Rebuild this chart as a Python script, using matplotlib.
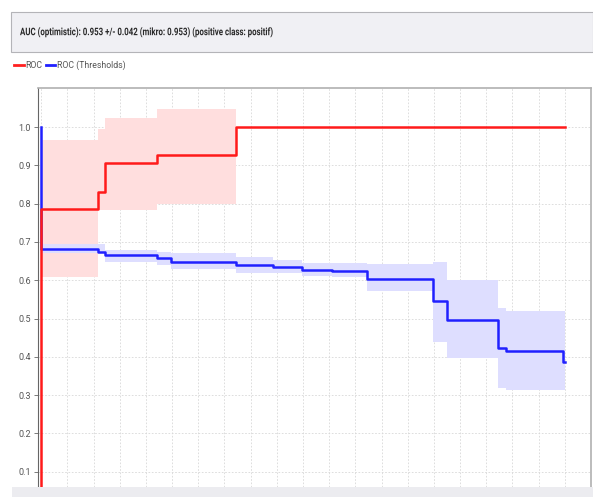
import matplotlib
matplotlib.use("Agg")
import matplotlib.pyplot as plt
from matplotlib.lines import Line2D
from matplotlib.patches import Rectangle
from matplotlib.patheffects import AbstractPathEffect
from matplotlib.transforms import Affine2D

# ROC (mean) curve, step-post
red_fpr = [0.0, 0.0, 0.109, 0.122, 0.221, 0.372, 1.0]
red_tpr = [0.0, 0.787, 0.830, 0.905, 0.926, 1.0, 1.0]

# ROC +/- std band
red_band_x = [0.0, 0.109, 0.122, 0.221, 0.372, 1.0]
red_upper = [0.966, 0.995, 1.023, 1.047, 1.0, 1.0]
red_lower = [0.608, 0.783, 0.783, 0.800, 1.0, 1.0]

# ROC (Thresholds) curve
blue_fpr = [0.0, 0.0, 0.109, 0.122, 0.221, 0.248, 0.372, 0.443, 0.498,
            0.555, 0.622, 0.748, 0.775, 0.872, 0.887, 0.996, 1.0]
blue_thr = [1.0, 0.681, 0.674, 0.666, 0.657, 0.648, 0.641, 0.634, 0.627,
            0.624, 0.603, 0.546, 0.496, 0.423, 0.415, 0.386, 0.386]

blue_band_x = [0.0, 0.122, 0.221, 0.248, 0.372, 0.443, 0.498, 0.555, 0.622,
               0.748, 0.775, 0.872, 0.887, 1.0]
blue_upper = [0.695, 0.679, 0.674, 0.671, 0.661, 0.653, 0.645, 0.645, 0.642,
              0.648, 0.600, 0.527, 0.520, 0.520]
blue_lower = [0.671, 0.648, 0.640, 0.629, 0.619, 0.619, 0.611, 0.608, 0.572,
              0.439, 0.397, 0.319, 0.313, 0.313]

y_ticks = [0.1, 0.2, 0.3, 0.4, 0.5, 0.6, 0.7, 0.8, 0.9, 1.0]
title_text = "AUC (optimistic): 0.953 +/- 0.042 (mikro: 0.953) (positive class: positif)"


class HSqueeze(AbstractPathEffect):
    """Squeeze glyphs horizontally (the original uses a narrow UI font)."""

    def __init__(self, sx):
        super().__init__()
        self.sx = sx

    def draw_path(self, renderer, gc, tpath, affine, rgbFace=None):
        renderer.draw_path(gc, tpath, Affine2D().scale(self.sx, 1) + affine, rgbFace)


plt.rcParams["font.family"] = ["Roboto", "DejaVu Sans"]

W, H = 593, 497
fig = plt.figure(figsize=(W / 100, H / 100), dpi=100)
renderer = fig.canvas.get_renderer()

# header bar
fig.patches.append(Rectangle((11 / W, 1 - 52 / H), 1 - 11 / W, 40 / H,
                             transform=fig.transFigure, facecolor="#f0f0f4",
                             edgecolor="#b4b4b8", lw=0.8))
title = fig.text(20 / W, 1 - 32 / H, title_text, fontsize=7.5, color="#2a2a2a",
                 va="center", ha="left", fontweight="bold")
tw = title.get_window_extent(renderer).width
title.set_path_effects([HSqueeze(252 / tw)])

# bottom strip
fig.patches.append(Rectangle((12 / W, 0), 1, 10 / H, transform=fig.transFigure,
                             facecolor="#ececf0", edgecolor="none"))

# legend row
handles = [Line2D([], [], color="#ff2020", lw=2),
           Line2D([], [], color="#2020ff", lw=2)]
fig.legend(handles, ["ROC", "ROC (Thresholds)"], loc="center left",
           bbox_to_anchor=(6 / W, 1 - 65 / H), ncol=2, frameon=False,
           fontsize=6.3, handlelength=1.1, handletextpad=0.2,
           columnspacing=0.4, labelcolor="#555555")

ax = fig.add_axes([38 / W, 10 / H, (591 - 38) / W, (487 - 88) / H])
ax.set_xlim(-0.006, 1.05)
ax.set_ylim(0.06, 1.102)

ax.fill_between(red_band_x, red_lower, red_upper, step="post",
                facecolor="#ffdede", edgecolor="none", zorder=1)
ax.fill_between(blue_band_x, blue_lower, blue_upper, step="post",
                facecolor="#dedeff", edgecolor="none", zorder=1)
ax.step(blue_fpr, blue_thr, where="post", color="#2020ff", lw=1.8, zorder=3)
ax.step(red_fpr, red_tpr, where="post", color="#ff1a1a", lw=1.8, zorder=4)

ax.set_yticks(y_ticks)
ax.set_yticklabels([f"{v:.1f}" for v in y_ticks])
ax.set_xticks([i * 0.05 for i in range(21)])
ax.tick_params(axis="x", length=0, labelbottom=False)
ax.tick_params(axis="y", length=3, width=0.6, color="#666666",
               labelsize=6.5, labelcolor="#555555", pad=2)
ax.grid(True, color="#d8d8d8", lw=0.6, ls=(0, (2, 2)))
ax.set_axisbelow(True)

for side in ("top", "right"):
    ax.spines[side].set_color("#b0b0b0")
    ax.spines[side].set_linewidth(1.2)
ax.spines["left"].set_color("#666666")
ax.spines["left"].set_linewidth(0.8)
ax.spines["bottom"].set_visible(False)

fig.savefig("out.png", dpi=100)
